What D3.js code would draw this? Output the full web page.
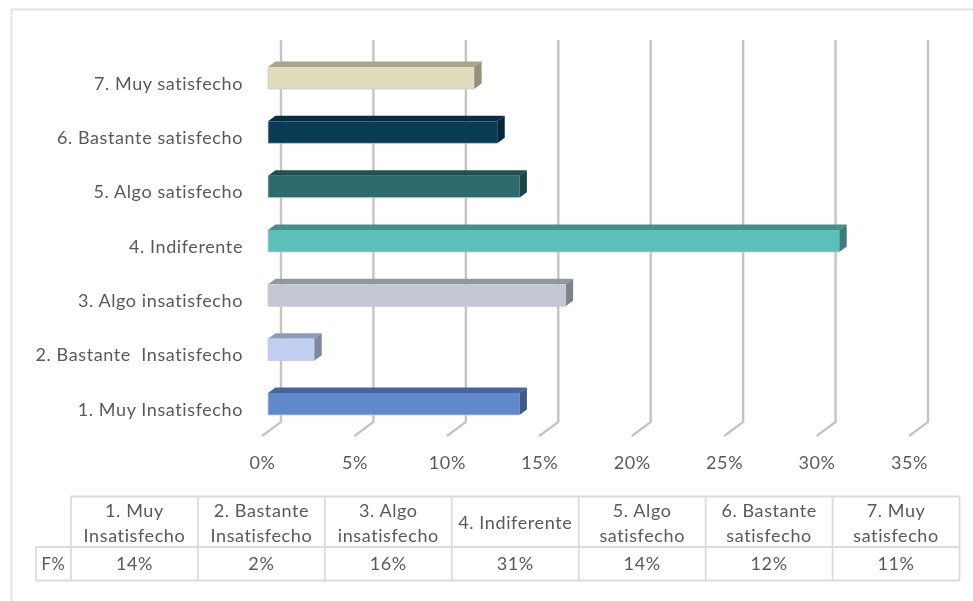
<!DOCTYPE html>
<html><head><meta charset="utf-8">
<script src="https://d3js.org/d3.v7.min.js"></script>
<style>html,body{margin:0;padding:0;background:#fff;overflow:hidden}svg{display:block;filter:blur(0.55px)}text{font-family:Lato,"Open Sans",sans-serif;fill:#595959;letter-spacing:0.6px}</style>
</head><body><svg id="c" width="973" height="601"></svg>
<script>
const categories=["1. Muy Insatisfecho","2. Bastante  Insatisfecho","3. Algo insatisfecho","4. Indiferente","5. Algo satisfecho","6. Bastante satisfecho","7. Muy satisfecho"];
const values=[13.6,2.5,16.1,30.9,13.6,12.4,11.15];
const colors=["#6288cc","#c0cff0","#c3c8d2","#5cbfb9","#2d6a6c","#0a3c57","#e0dcbc"];
const topColors=["#46659c","#8f9cb8","#92969e","#45908b","#224f51","#072d41","#a8a58d"];
const sideColors=["#3d5889","#7d889f","#7f838a","#3c7d79","#1d4547","#06273a","#93907b"];
const ticks=[0,5,10,15,20,25,30,35];
const tableHead=[["1. Muy","Insatisfecho"],["2. Bastante","Insatisfecho"],["3. Algo","insatisfecho"],["4. Indiferente"],["5. Algo","satisfecho"],["6. Bastante","satisfecho"],["7. Muy","satisfecho"]];
const tableVals=["14%","2%","16%","31%","14%","12%","11%"];
const rowName="F%";

const svg=d3.select("#c");
const dx=19,bdx=7.5,bdy=5.5;
const fs=18;
const x=d3.scaleLinear().domain([0,35]).range([262,909]);
const grid="#c4c4c4";
svg.append("path").attr("d","M11.5,640V9.5H1000").attr("fill","none").attr("stroke","#e4e4e4").attr("stroke-width",2);
svg.append("g").selectAll("path").data(ticks).join("path")
 .attr("d",t=>d3.line()([[x(t)+dx,40],[x(t)+dx,422],[x(t),436]]))
 .attr("fill","none").attr("stroke",grid).attr("stroke-width",2.4);
svg.append("g").selectAll("text").data(ticks).join("text")
 .attr("x",t=>x(t)+0.5).attr("y",469).attr("text-anchor","middle").attr("font-size",fs).text(t=>t+"%");
const barH=22;
const yc=d3.scalePoint().domain(categories).range([404,78]);
const g=svg.append("g");
const x0=268;
const xb=v=>x0+(x(v)-x(0));
categories.forEach((c,i)=>{
  const v=values[i],xe=xb(v),yt=yc(c)-barH/2,yb=yt+barH;
  g.append("path").attr("d",d3.line()([[x0,yt],[x0+bdx,yt-bdy],[xe+bdx,yt-bdy],[xe,yt]])).attr("fill",topColors[i]);
  g.append("path").attr("d",d3.line()([[xe,yt],[xe+bdx,yt-bdy],[xe+bdx,yb-bdy],[xe,yb]])).attr("fill",sideColors[i]);
  g.append("rect").attr("x",x0).attr("y",yt).attr("width",xe-x0).attr("height",barH).attr("fill",colors[i]);
  g.append("path").attr("d",d3.line()([[x0,yt],[x0,yb],[xe,yb]])).attr("fill","none").attr("stroke","#c8ccd2").attr("stroke-width",0.8);
  svg.append("text").attr("x",243).attr("y",yc(c)+11.5).attr("text-anchor","end").attr("font-size",fs).style("white-space","pre").text(c);
});
const cols=d3.scaleLinear().domain([0,7]).range([71,959.5]);
const tbl=svg.append("g");
const tc="#dcdcdc";
const seg=(a,b,c,d)=>tbl.append("line").attr("x1",a).attr("y1",b).attr("x2",c).attr("y2",d).attr("stroke",tc).attr("stroke-width",1.8);
seg(71,496.5,959.5,496.5);seg(36,547,959.5,547);seg(36,580.5,959.5,580.5);seg(36,547,36,580.5);
d3.range(8).forEach(i=>seg(cols(i),496.5,cols(i),580.5));
tableHead.forEach((ls,i)=>{
  const cx=(cols(i)+cols(i+1))/2;
  ls.forEach((l,j)=>tbl.append("text").attr("x",cx).attr("y",(ls.length==2?516.5+j*25:529)).attr("text-anchor","middle").attr("font-size",fs).text(l));
  tbl.append("text").attr("x",cx).attr("y",570).attr("text-anchor","middle").attr("font-size",fs).text(tableVals[i]);
});
tbl.append("text").attr("x",53.5).attr("y",570).attr("text-anchor","middle").attr("font-size",16.5).text(rowName);
</script></body></html>
